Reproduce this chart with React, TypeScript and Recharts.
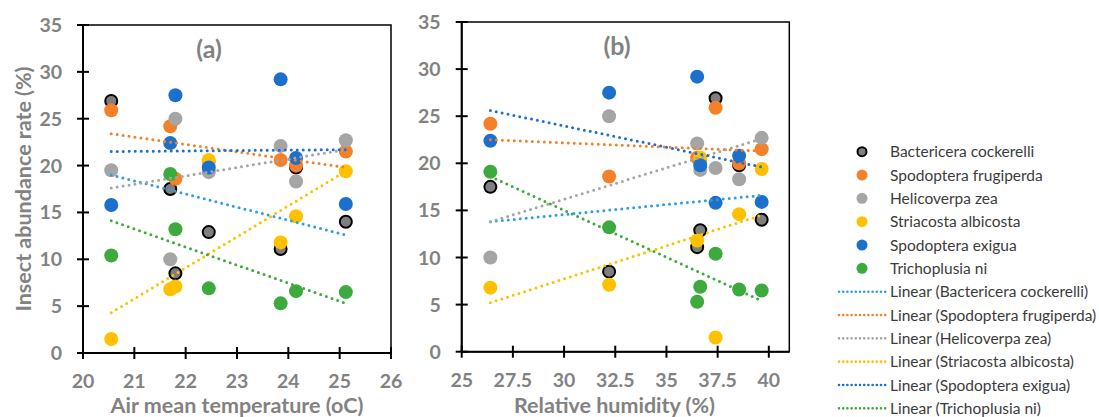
import React from "react";
import { ScatterChart, Scatter, XAxis, YAxis, Label, ReferenceArea } from "recharts";

const speciesNames = [
  "Bactericera cockerelli",
  "Spodoptera frugiperda",
  "Helicoverpa zea",
  "Striacosta albicosta",
  "Spodoptera exigua",
  "Trichoplusia ni",
];

// one value per sampling site
const airTemp = [20.55, 21.7, 21.8, 22.45, 23.85, 24.15, 25.12];
const humidity = [37.4, 26.4, 32.2, 36.65, 36.5, 38.55, 39.65];

const bactericera = [26.9, 17.5, 8.5, 12.9, 11.1, 19.8, 14.0];
const frugiperda = [25.9, 24.2, 18.6, 20.4, 20.6, 20.0, 21.5];
const helicoverpa = [19.5, 10.0, 25.0, 19.3, 22.1, 18.3, 22.7];
const striacosta = [1.5, 6.8, 7.1, 20.6, 11.8, 14.6, 19.4];
const exigua = [15.8, 22.4, 27.5, 19.8, 29.2, 20.8, 15.9];
const trichoplusia = [10.4, 19.1, 13.2, 6.9, 5.3, 6.6, 6.5];

// linear trend ends [at min x, at max x]
const tempTrend = [
  [19.0, 12.6],
  [23.4, 19.8],
  [17.6, 21.7],
  [4.3, 19.4],
  [21.5, 21.7],
  [14.1, 5.3],
];
const humTrend = [
  [13.8, 16.6],
  [22.5, 21.3],
  [13.8, 22.6],
  [5.2, 14.5],
  [25.6, 19.6],
  [18.6, 5.4],
];

const yTicks = [0, 5, 10, 15, 20, 25, 30, 35];
const tempTicks = [20, 21, 22, 23, 24, 25, 26];
const humTicks = [25, 27.5, 30, 32.5, 35, 37.5, 40];

const seriesValues = [bactericera, frugiperda, helicoverpa, striacosta, exigua, trichoplusia];
const dotColors = ["#7F7F7F", "#F5802A", "#A5A5A5", "#FFC000", "#1C6FCB", "#3DAA3D"];
const trendColors = ["#2D9FE0", "#F5802A", "#A5A5A5", "#FFC000", "#1C6FCB", "#3DAA3D"];

const FONT = "Lato, 'Liberation Sans', sans-serif";
const GRAY = "#828282";

const YTick = (props: any) => {
  const { x, y, payload } = props;
  const ax = x + 21;
  return (
    <g>
      <line x1={ax - 6} x2={ax + 6} y1={y} y2={y} stroke="#000" strokeWidth={2} />
      <text x={x} y={y} dy="0.36em" textAnchor="end" fill={GRAY} fontSize={19.5} fontWeight={700} fontFamily={FONT}>
        {payload.value}
      </text>
    </g>
  );
};

const XTick = (props: any) => {
  const { x, y, payload } = props;
  const ay = y - 22;
  return (
    <g>
      <line x1={x} x2={x} y1={ay - 6} y2={ay + 6} stroke="#000" strokeWidth={2} />
      <text x={x} y={ay + 28} dy="0.36em" textAnchor="middle" fill={GRAY} fontSize={19.5} fontWeight={700} fontFamily={FONT}>
        {payload.value}
      </text>
    </g>
  );
};

const noShape = () => <g />;

const Dot = (props: any) => {
  const { cx, cy, fill, ring } = props;
  return <circle cx={cx} cy={cy} r={ring ? 6 : 7} fill={fill} stroke={ring ? "#000" : "none"} strokeWidth={2} />;
};

const Panel = ({ xs, trend, domain, ticks, xTitle, titleDx, yTitle, width, yAxisWidth, marginTop, marginRight, xAxisHeight }: any) => {
  const xMin = Math.min(...xs);
  const xMax = Math.max(...xs);
  return (
    <ScatterChart width={width} height={417} margin={{ top: marginTop, right: marginRight, bottom: 0, left: 0 }}>
      <XAxis
        type="number"
        dataKey="x"
        domain={domain}
        ticks={ticks}
        allowDataOverflow
        tickLine={false}
        tickSize={6}
        tickMargin={16}
        height={xAxisHeight}
        axisLine={{ stroke: "#000", strokeWidth: 2 }}
        tick={<XTick />}
      >
        <Label
          value={xTitle}
          position="insideBottom"
          offset={4}
          dx={titleDx}
          fill={GRAY}
          fontSize={21.5}
          fontWeight={700}
          fontFamily={FONT}
        />
      </XAxis>
      <YAxis
        type="number"
        dataKey="y"
        domain={[0, 35]}
        ticks={yTicks}
        tickLine={false}
        tickSize={6}
        tickMargin={15}
        width={yAxisWidth}
        axisLine={{ stroke: "#000", strokeWidth: 2 }}
        tick={<YTick />}
      >
        {yTitle ? (
          <Label
            value={yTitle}
            angle={-90}
            position="insideLeft"
            offset={23}
            fill={GRAY}
            fontSize={21.5}
            fontWeight={700}
            fontFamily={FONT}
            style={{ textAnchor: "middle" }}
          />
        ) : null}
      </YAxis>
      <ReferenceArea x1={domain[0]} x2={domain[1]} y1={0} y2={35} fill="none" stroke="#000" strokeWidth={1.5} />
      {seriesValues.map((vals, i) => (
        <Scatter
          key={"s" + i}
          data={vals.map((v, k) => ({ x: xs[k], y: v }))}
          fill={dotColors[i]}
          shape={(p: any) => <Dot {...p} fill={dotColors[i]} ring={i === 0} />}
          isAnimationActive={false}
        />
      ))}
      {trend.map((t: number[], i: number) => (
        <Scatter
          key={"t" + i}
          data={[
            { x: xMin, y: t[0] },
            { x: xMax, y: t[1] },
          ]}
          shape={noShape}
          line={{ stroke: trendColors[i], strokeWidth: 3, strokeDasharray: "0 6", strokeLinecap: "round" }}
          isAnimationActive={false}
        />
      ))}
    </ScatterChart>
  );
};

const Overlay = () => {
  const rowH = 23.33;
  const top = 151.7;
  return (
    <svg width={1099} height={417} style={{ position: "absolute", left: 0, top: 0, pointerEvents: "none" }}>
      <text x={209} y={49} dy="0.36em" textAnchor="middle" fill={GRAY} fontSize={25} fontWeight={700} fontFamily={FONT}>
        (a)
      </text>
      <text x={617} y={46} dy="0.36em" textAnchor="middle" fill={GRAY} fontSize={25} fontWeight={700} fontFamily={FONT}>
        (b)
      </text>
      {speciesNames.map((name, i) => (
        <g key={"m" + i}>
          <circle
            cx={862}
            cy={top + i * rowH}
            r={i === 0 ? 4.5 : 5.5}
            fill={dotColors[i]}
            stroke={i === 0 ? "#000" : "none"}
            strokeWidth={2}
          />
          <text x={890} y={top + i * rowH} dy="0.36em" fill="#3C3C3C" fontSize={15.5} fontFamily={FONT}>
            {name}
          </text>
        </g>
      ))}
      {speciesNames.map((name, i) => {
        const cy = top + (i + 6) * rowH;
        return (
          <g key={"l" + i}>
            <line x1={839} x2={886} y1={cy} y2={cy} stroke={trendColors[i]} strokeWidth={2.6} strokeDasharray="0 4.2" strokeLinecap="round" />
            <text x={890} y={cy} dy="0.36em" fill="#3C3C3C" fontSize={15.5} fontFamily={FONT}>
              {`Linear (${name})`}
            </text>
          </g>
        );
      })}
    </svg>
  );
};

export default function App() {
  return (
    <div style={{ position: "absolute", left: 0, top: 0, width: 1099, height: 417, background: "#fff" }}>
      <div style={{ position: "absolute", left: 0, top: 0 }}>
        <Panel
          xs={airTemp}
          trend={tempTrend}
          domain={[20, 26]}
          ticks={tempTicks}
          xTitle="Air mean temperature (oC)"
          titleDx={0}
          yTitle="Insect abundance rate (%)"
          width={406}
          yAxisWidth={83}
          marginTop={25}
          marginRight={15}
          xAxisHeight={64}
        />
      </div>
      <div style={{ position: "absolute", left: 406, top: 0 }}>
        <Panel
          xs={humidity}
          trend={humTrend}
          domain={[25, 41]}
          ticks={humTicks}
          xTitle="Relative humidity (%)"
          titleDx={-11}
          yTitle={null}
          width={389}
          yAxisWidth={55.7}
          marginTop={22}
          marginRight={5.7}
          xAxisHeight={65.3}
        />
      </div>
      <Overlay />
    </div>
  );
}
